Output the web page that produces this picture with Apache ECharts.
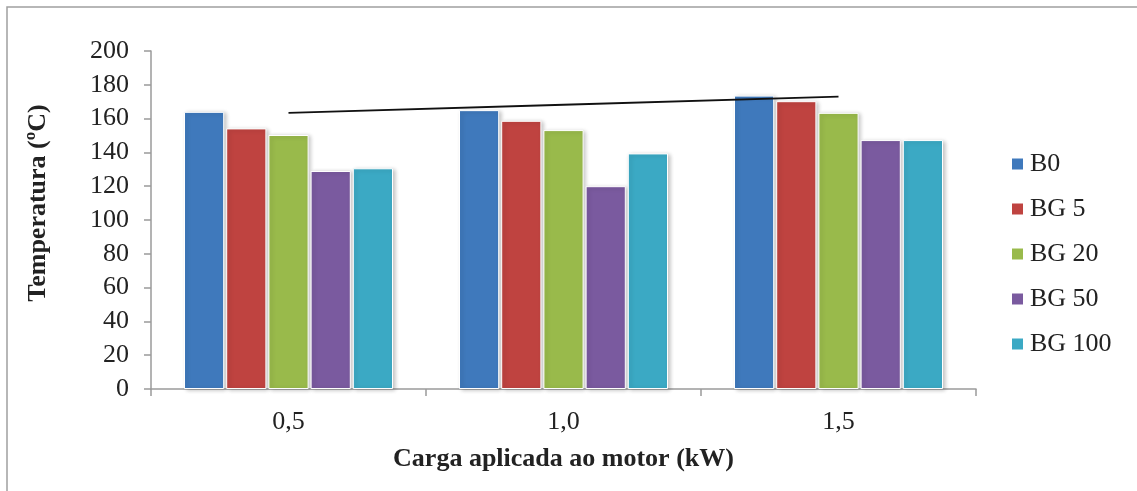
<!DOCTYPE html>
<html>
<head>
<meta charset="utf-8">
<script src="https://cdn.jsdelivr.net/npm/echarts@6/dist/echarts.min.js"></script>
<style>
html,body{margin:0;padding:0;background:#fff;}
#chart{width:1137px;height:491px;}
</style>
</head>
<body>
<div id="chart"></div>
<script>
const categories = ['0,5', '1,0', '1,5'];
const seriesNames = ['B0', 'BG 5', 'BG 20', 'BG 50', 'BG 100'];
const B0 = [164, 165, 173.6];
const BG5 = [154.2, 158.7, 170.3];
const BG20 = [150.3, 153.2, 163.4];
const BG50 = [129, 120, 147.3];
const BG100 = [130.6, 139.4, 147.3];
const trendB0 = [163.4, 168.2, 173.0];
const yTicks = { min: 0, max: 200, interval: 20 };
const colors = ['#3F79BC', '#BF4340', '#99BA4B', '#7A5A9F', '#3BA9C4'];

const seriesData = [B0, BG5, BG20, BG50, BG100];
const FONT = '"Liberation Serif", "DejaVu Serif", serif';

const chart = echarts.init(document.getElementById('chart'), null, { renderer: 'canvas' });

const barSeries = seriesNames.map((name, i) => ({
  name: name,
  type: 'bar',
  data: seriesData[i],
  barGap: '5%',
  barCategoryGap: '24%',
  itemStyle: {
    color: colors[i],
    borderColor: '#ffffff',
    borderWidth: 1,
    shadowBlur: 4,
    shadowColor: 'rgba(0,0,0,0.22)',
    shadowOffsetX: 2,
    shadowOffsetY: 1
  },
  emphasis: { disabled: true }
}));

const option = {
  animation: false,
  backgroundColor: '#ffffff',
  grid: { left: 151, right: 161, top: 51, bottom: 102, containLabel: false },
  legend: {
    data: seriesNames,
    orient: 'vertical',
    left: 1007,
    top: 146,
    itemWidth: 11,
    itemHeight: 11,
    itemGap: 19,
    icon: 'rect',
    textStyle: { fontFamily: FONT, fontSize: 26, color: '#222', padding: [0, 0, 0, 2] },
    itemStyle: { borderWidth: 0, shadowBlur: 0 }
  },
  xAxis: {
    type: 'category',
    data: categories,
    name: 'Carga aplicada ao motor (kW)',
    nameLocation: 'middle',
    nameGap: 57,
    nameTextStyle: { fontFamily: FONT, fontSize: 26, fontWeight: 'bold', color: '#222' },
    axisLine: { lineStyle: { color: '#9a9a9a', width: 1.5 } },
    axisTick: { show: true, length: 7, lineStyle: { color: '#9a9a9a', width: 1.5 } },
    axisLabel: { fontFamily: FONT, fontSize: 26, color: '#222', margin: 20 }
  },
  yAxis: {
    type: 'value',
    min: yTicks.min,
    max: yTicks.max,
    interval: yTicks.interval,
    name: 'Temperatura (ºC)',
    nameLocation: 'middle',
    nameGap: 100,
    nameTextStyle: { fontFamily: FONT, fontSize: 26, fontWeight: 'bold', color: '#222', padding: [0, 0, 0, 34] },
    axisLine: { show: true, lineStyle: { color: '#9a9a9a', width: 1.5 } },
    axisTick: { show: true, length: 7, lineStyle: { color: '#9a9a9a', width: 1.5 } },
    splitLine: { show: false },
    axisLabel: { fontFamily: FONT, fontSize: 26, color: '#222', margin: 22 }
  },
  graphic: [{
    type: 'rect',
    shape: { x: 7, y: 7, width: 1200, height: 600 },
    style: { fill: 'none', stroke: '#a0a0a0', lineWidth: 1.5 },
    silent: true
  }],
  series: barSeries.concat([{
    name: 'trend',
    type: 'line',
    data: trendB0,
    symbol: 'none',
    lineStyle: { color: '#111', width: 1.8 },
    z: 5,
    emphasis: { disabled: true }
  }])
};

chart.setOption(option);
</script>
</body>
</html>
